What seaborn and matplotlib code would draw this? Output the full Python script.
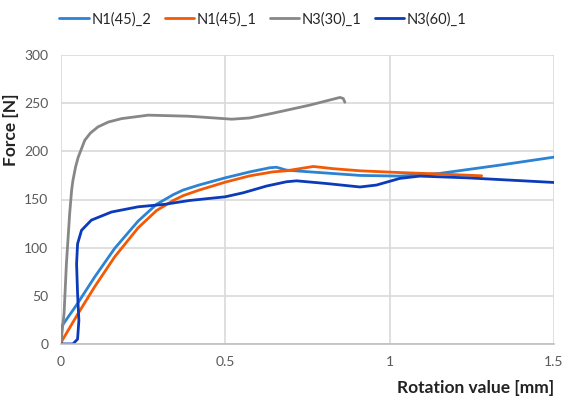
import matplotlib
matplotlib.use("Agg")
import matplotlib.pyplot as plt
import seaborn as sns
import pandas as pd

# series (rotation mm, force N)
n1_45_2_x = [0.0, 0.002, 0.048, 0.103, 0.164, 0.235, 0.291, 0.342, 0.372, 0.42,
             0.5, 0.575, 0.636, 0.656, 0.686, 0.757, 0.91, 1.03, 1.15, 1.335, 1.5]
n1_45_2_y = [15, 18, 40.5, 69.5, 99.3, 127.5, 145, 155, 159.8, 165,
             172.5, 178.7, 183, 183.5, 180.5, 178.7, 175, 174.3, 177, 185.7, 194]

n1_45_1_x = [0.0, 0.004, 0.053, 0.103, 0.164, 0.235, 0.291, 0.342, 0.372, 0.42,
             0.5, 0.575, 0.645, 0.686, 0.768, 0.829, 0.91, 1.03, 1.15, 1.28]
n1_45_1_y = [0, 3.5, 31.8, 59.4, 90.5, 120.5, 138.5, 149, 154, 159.7,
             168, 174.6, 178.7, 179.8, 184.3, 182, 179.8, 178, 176.5, 174.6]

n3_30_1_x = [0.0, 0.010, 0.017, 0.027, 0.033, 0.037, 0.045, 0.053, 0.073, 0.09, 0.113,
             0.145, 0.185, 0.266, 0.387, 0.42, 0.52, 0.575, 0.645, 0.757, 0.849,
             0.859, 0.864]
n3_30_1_y = [0, 32, 83, 135.5, 160, 170, 184, 194, 211.6, 219, 225.4,
             230.5, 234, 237.6, 236.5, 235.8, 233.4, 234.7, 239.6, 248, 256,
             254.9, 251]

n3_60_1_x = [0.0, 0.037, 0.051, 0.055, 0.051, 0.048, 0.051, 0.063, 0.093, 0.154, 0.235,
             0.316, 0.392, 0.5, 0.555, 0.626, 0.686, 0.717, 0.808, 0.91, 0.96, 1.031,
             1.092, 1.235, 1.5]
n3_60_1_y = [0, 0, 5, 24.5, 52, 83.3, 104, 118, 128.6, 137, 142.4,
             145, 149, 152.8, 157, 164, 168.4, 169.4, 166.6, 163, 165, 171.9,
             174.3, 172.5, 167.7]

series = ["N1(45)_2", "N1(45)_1", "N3(30)_1", "N3(60)_1"]
colors = ["#2C83D4", "#F25A05", "#878787", "#0B3BB8"]

frames = []
for name, xs, ys in zip(series,
                        [n1_45_2_x, n1_45_1_x, n3_30_1_x, n3_60_1_x],
                        [n1_45_2_y, n1_45_1_y, n3_30_1_y, n3_60_1_y]):
    frames.append(pd.DataFrame({"x": xs, "y": ys, "series": name}))
df = pd.concat(frames, ignore_index=True)

sns.set_style("white")
plt.rcParams["font.family"] = ["Lato", "DejaVu Sans"]

fig = plt.figure(figsize=(5.63, 3.99), dpi=100)
ax = fig.add_axes([0.108, 0.138, 0.876, 0.724])

sns.lineplot(data=df, x="x", y="y", hue="series", hue_order=series,
             palette=dict(zip(series, colors)), sort=False, estimator=None,
             linewidth=2.0, ax=ax, legend=False)
for ln in ax.lines:
    ln.set_solid_joinstyle("round")

ax.set_xlim(0, 1.5)
ax.set_ylim(0, 300)
ax.set_xticks([0, 0.5, 1, 1.5])
ax.set_xticklabels(["0", "0.5", "1", "1.5"])
ax.set_yticks(range(0, 301, 50))
ax.grid(True, color="#D9D9D9", linewidth=1.2)
ax.set_axisbelow(True)
for s in ["top", "right", "left"]:
    ax.spines[s].set_visible(False)
ax.spines["bottom"].set_color("#BFBFBF")
ax.spines["bottom"].set_linewidth(1.2)
ax.tick_params(axis="both", length=0, labelsize=10, colors="#595959", pad=9)

ax.set_xlabel("Rotation value [mm]", fontsize=12.5, fontweight="bold", color="#222222")
ax.xaxis.set_label_coords(1.0, -0.125)
ax.xaxis.label.set_horizontalalignment("right")
ax.set_ylabel("Force [N]", fontsize=12.5, fontweight="bold", color="#222222")
ax.yaxis.set_label_coords(-0.085, 0.74)

handles = [plt.Line2D([], [], color=c, linewidth=2.0) for c in colors]
fig.legend(handles, series, loc="center", bbox_to_anchor=(0.467, 0.952), ncol=4,
           frameon=False, fontsize=10.5, handlelength=2.0, handletextpad=0.2,
           columnspacing=0.9)

fig.savefig("out.png", dpi=100)
